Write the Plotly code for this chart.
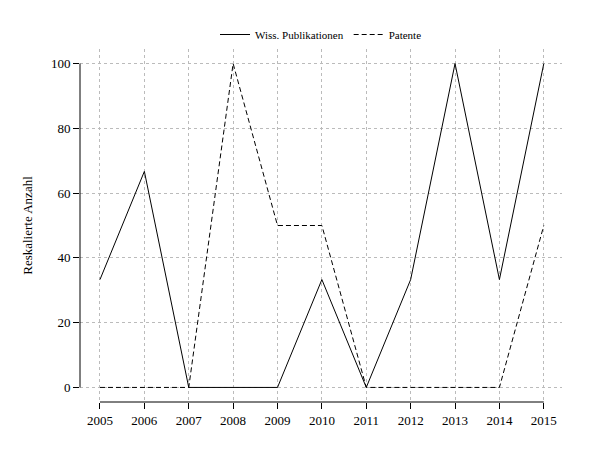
import plotly.graph_objects as go

years = list(range(2005, 2016))
publikationen = [33.3, 66.7, 0, 0, 0, 33.3, 0, 33.3, 100, 33.3, 100]
patente = [0, 0, 0, 100, 50, 50, 0, 0, 0, 0, 50]
y_ticks = [0, 20, 40, 60, 80, 100]

FONT = "Liberation Serif, Times New Roman, serif"

fig = go.Figure()
fig.add_trace(go.Scatter(x=years, y=publikationen, mode="lines",
                         name="Wiss. Publikationen",
                         line=dict(color="black", width=1)))
fig.add_trace(go.Scatter(x=years, y=patente, mode="lines", name="Patente",
                         line=dict(color="black", width=1, dash="5px,3px")))

# R-style axis lines spanning only the tick range
fig.add_shape(type="line", xref="paper", yref="y", x0=0, x1=0, y0=0, y1=100,
              line=dict(color="black", width=1))
fig.add_shape(type="line", xref="x", yref="paper", x0=2005, x1=2015, y0=0, y1=0,
              line=dict(color="black", width=1))

fig.update_layout(
    width=600, height=450,
    template="plotly_white",
    plot_bgcolor="white",
    margin=dict(l=72, r=46, t=24, b=56),
    font=dict(family=FONT, size=13, color="black"),
    legend=dict(orientation="h", x=0.5, xanchor="center", y=1.0, yanchor="bottom",
                font=dict(size=11)),
)
fig.update_xaxes(range=[2004.55, 2015.41], tickvals=years, showline=False,
                 zeroline=False, ticks="outside", ticklen=6, tickcolor="black",
                 gridcolor="#bbbbbb", griddash="dot", automargin=False)
fig.update_yaxes(range=[-4.5, 104.5], tickvals=y_ticks, showline=False,
                 zeroline=False, ticks="outside", ticklen=6, tickcolor="black",
                 gridcolor="#bbbbbb", griddash="dot", automargin=False,
                 title=dict(text="Reskalierte Anzahl", font=dict(size=13)))

fig.write_html("out.html")
